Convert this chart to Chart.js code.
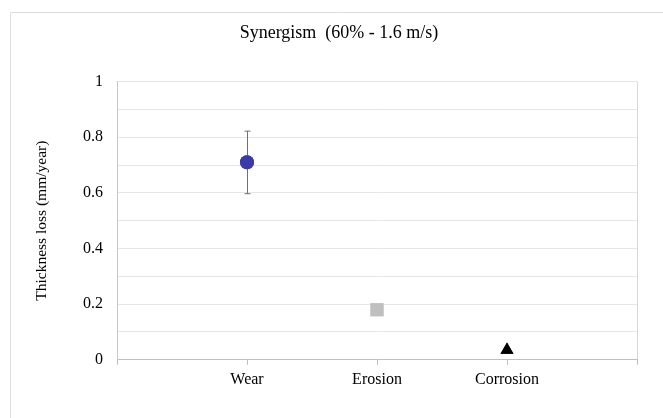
<!DOCTYPE html>
<html>
<head>
<meta charset="utf-8">
<script src="https://cdn.jsdelivr.net/npm/chart.js@4/dist/chart.umd.min.js"></script>
<style>
  html, body { margin: 0; padding: 0; background: #fff; }
  #wrap { position: relative; width: 663px; height: 418px; }
</style>
</head>
<body>
<div id="wrap"><canvas id="chart" width="663" height="418"></canvas></div>
<script>
"use strict";

// Data
var CATEGORIES = ["Wear", "Erosion", "Corrosion"];
var VALUES = [0.71, 0.18, 0.035];
var ERR_LOW = [0.597, null, null];
var ERR_HIGH = [0.822, null, null];

var MARKERS = [
  { style: "circle", color: "#3a3aa8", radius: 7 },
  { style: "rect", color: "#bfbfbf", radius: 9.2 },
  { style: "triangle", color: "#000000", radius: 7.5 }
];

var SERIF = "'Liberation Serif', 'DejaVu Serif', serif";

var datasets = CATEGORIES.map(function(c, i) {
  var m = MARKERS[i];
  return {
    label: c,
    data: [{ x: i + 1, y: VALUES[i] }],
    pointStyle: m.style,
    pointRadius: m.radius,
    pointHoverRadius: m.radius,
    backgroundColor: m.color,
    borderColor: m.color,
    borderWidth: 0,
    showLine: false
  };
});

// outer frame (top + left edges only, picture is cropped)
var framePlugin = {
  id: "frame",
  beforeDraw: function(chart) {
    var ctx = chart.ctx;
    ctx.save();
    ctx.strokeStyle = "#dcdcdc";
    ctx.lineWidth = 1;
    ctx.beginPath();
    ctx.moveTo(10.5, 418);
    ctx.lineTo(10.5, 12.5);
    ctx.lineTo(663, 12.5);
    ctx.stroke();
    ctx.restore();
  }
};

// vertical error bars with caps
var errorBarPlugin = {
  id: "errorBars",
  afterDatasetsDraw: function(chart) {
    var ctx = chart.ctx;
    var xs = chart.scales.x, ys = chart.scales.y;
    ctx.save();
    ctx.strokeStyle = "#707070";
    ctx.lineWidth = 1;
    for (var i = 0; i < CATEGORIES.length; i++) {
      if (ERR_LOW[i] == null) continue;
      var x = Math.round(xs.getPixelForValue(i + 1)) + 0.5;
      var y1 = ys.getPixelForValue(ERR_LOW[i]);
      var y2 = ys.getPixelForValue(ERR_HIGH[i]);
      ctx.beginPath();
      ctx.moveTo(x, y1); ctx.lineTo(x, y2);
      ctx.moveTo(x - 3, y1); ctx.lineTo(x + 3, y1);
      ctx.moveTo(x - 3, y2); ctx.lineTo(x + 3, y2);
      ctx.stroke();
    }
    ctx.restore();
    // redraw markers above the bar
    chart.getSortedVisibleDatasetMetas().forEach(function(meta) {
      meta.controller.draw();
    });
  }
};

new Chart(document.getElementById("chart").getContext("2d"), {
  type: "scatter",
  data: { datasets: datasets },
  plugins: [framePlugin, errorBarPlugin],
  options: {
    responsive: false,
    animation: false,
    layout: { padding: { left: 41, right: 26, top: 0, bottom: 24 } },
    plugins: {
      legend: { display: false },
      tooltip: { enabled: false },
      title: {
        display: true,
        text: "Synergism  (60% - 1.6 m/s)",
        color: "#000",
        font: { family: SERIF, size: 18, weight: "normal" },
        padding: { top: 22, bottom: 38 }
      }
    },
    scales: {
      x: {
        type: "linear",
        min: 0,
        max: 4,
        ticks: {
          stepSize: 1,
          color: "#000",
          font: { family: SERIF, size: 16 },
          padding: 5,
          callback: function(v) { return CATEGORIES[v - 1] || ""; }
        },
        grid: {
          drawOnChartArea: true,
          color: function(c) { return c.tick && c.tick.value === 4 ? "#d9d9d9" : "rgba(0,0,0,0)"; },
          tickColor: "#bfbfbf",
          tickLength: 5
        },
        border: { display: true, color: "#bfbfbf" }
      },
      y: {
        min: 0,
        max: 1,
        afterFit: function(scale) { scale.width = 76; },
        ticks: {
          stepSize: 0.1,
          color: "#000",
          font: { family: SERIF, size: 16 },
          padding: 14,
          callback: function(v) {
            var k = Math.round(v * 10);
            return k % 2 === 0 ? String(k / 10) : "";
          }
        },
        grid: { color: "#e6e6e6", drawTicks: false },
        border: { display: true, color: "#c8c8c8" },
        title: {
          display: true,
          text: "Thickness loss (mm/year)",
          color: "#000",
          font: { family: SERIF, size: 15.5 },
          padding: { top: -8, bottom: 10 }
        }
      }
    }
  }
});
</script>
</body>
</html>
